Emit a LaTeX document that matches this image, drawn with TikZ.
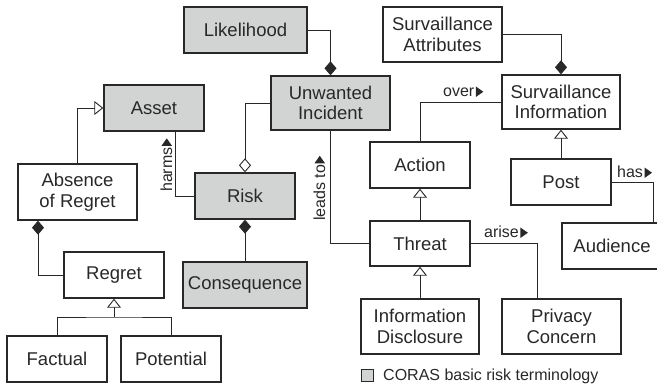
\documentclass[tikz,border=0pt]{standalone}
\usepackage{fontspec}
\setmainfont{Liberation Sans}
\usetikzlibrary{arrows.meta}
\definecolor{corasgrey}{RGB}{210,212,212}
\definecolor{inkc}{RGB}{40,40,40}
\newcommand\rtri{\hspace{1.5pt}\tikz[baseline=0pt]\fill[inkc] (0pt,0pt)--(0pt,10.5pt)--(7.5pt,5.25pt)--cycle;}
\tikzset{
  umlbox/.style={draw=inkc, line width=1.4pt, fill=white, inner sep=0pt, align=center,
    text=inkc, font=\fontsize{18.5}{20.5}\selectfont},
  corasbox/.style={umlbox, fill=corasgrey},
  conn/.style={draw=inkc, line width=0.9pt},
  comp/.style={conn, -{Diamond[length=14pt,width=12pt]}},
  aggr/.style={conn, -{Diamond[open,length=14pt,width=12pt,fill=white]}},
  gen/.style={conn, -{Triangle[open,length=9pt,width=14pt,fill=white]}},
  lbl/.style={inner sep=0pt, text=inkc, font=\fontsize{16}{18}\selectfont},
}
\begin{document}
\begin{tikzpicture}[x=1pt,y=-1pt]
\useasboundingbox (0,0) rectangle (657,385);
% nodes
\node[corasbox, minimum width=123pt, minimum height=46pt] (lik) at (245.5,30) {Likelihood};
\node[corasbox, minimum width=100pt, minimum height=46pt] (asset) at (154,108) {Asset};
\node[corasbox, minimum width=119pt, minimum height=54pt] (ui) at (330.5,103) {Unwanted\\Incident};
\node[corasbox, minimum width=100pt, minimum height=46pt] (risk) at (245,196) {Risk};
\node[corasbox, minimum width=124pt, minimum height=46pt] (cons) at (245,285) {Consequence};
\node[umlbox, minimum width=119pt, minimum height=56pt] (abs) at (77.5,192) {Absence\\of Regret};
\node[umlbox, minimum width=100pt, minimum height=46pt] (regret) at (114,275) {Regret};
\node[umlbox, minimum width=100pt, minimum height=46pt] (factual) at (57,359) {Factual};
\node[umlbox, minimum width=100pt, minimum height=46pt] (potential) at (171,359) {Potential};
\node[umlbox, minimum width=119pt, minimum height=55pt] (sa) at (442.5,34.5) {Survaillance\\Attributes};
\node[umlbox, minimum width=118pt, minimum height=54pt] (si) at (561,102) {Survaillance\\Information};
\node[umlbox, minimum width=100pt, minimum height=46pt] (action) at (420,165) {Action};
\node[umlbox, minimum width=100pt, minimum height=46pt] (post) at (561,182) {Post};
\node[umlbox, minimum width=100pt, minimum height=46pt] (audience) at (612,246) {Audience};
\node[umlbox, minimum width=100pt, minimum height=45pt] (threat) at (420,243.5) {Threat};
\node[umlbox, minimum width=118pt, minimum height=55pt] (infod) at (420,326.5) {Information\\Disclosure};
\node[umlbox, minimum width=119pt, minimum height=55pt] (privacy) at (561.5,326.5) {Privacy\\Concern};
% legend
\node[draw=inkc, line width=0.9pt, fill=corasgrey, minimum width=12pt, minimum height=12pt, inner sep=0pt] (legsq) at (367.5,375.5) {};
\node[lbl, anchor=base west] (legtxt) at (383,381) {CORAS basic risk terminology};
% connectors
\draw[comp] (lik.east) -| (ui.north);
\draw[comp] (sa.east) -| (si.north);
\draw[aggr] (ui.west) -| (risk.north);
\draw[conn] ([xshift=21pt]asset.south) |- (risk.west);
\draw[gen] (abs.north) |- (asset.west);
\draw[comp] (regret.west) -| ([xshift=-39.5pt]abs.south);
\coordinate (gj) at (114,317);
\draw[conn] (factual.north) |- (gj) -| (potential.north);
\draw[gen] (gj) -- (regret.south);
\draw[comp] (cons.north) -- (risk.south);
\draw[conn] (ui.south) |- (threat.west);
\draw[conn] (action.north) |- (si.west);
\draw[gen] (post.north) -- (si.south);
\draw[conn] (post.east) -| ([xshift=41pt]audience.north);
\draw[gen] (threat.north) -- (action.south);
\draw[gen] (infod.north) -- (threat.south);
\draw[conn] (threat.east) -| ([xshift=-24.5pt]privacy.north);
% labels
\node[lbl, anchor=base west] (lover) at (443,97) {over\rtri};
\node[lbl, anchor=base west] (lhas) at (617,178) {has\rtri};
\node[lbl, anchor=base west] (larise) at (484,238) {arise\rtri};
\node[lbl, anchor=base west, rotate=90] (lharms) at (172,192) {harms\rtri};
\node[lbl, anchor=base west, rotate=90] (lleads) at (325,221) {leads to\rtri};
\end{tikzpicture}
\end{document}
